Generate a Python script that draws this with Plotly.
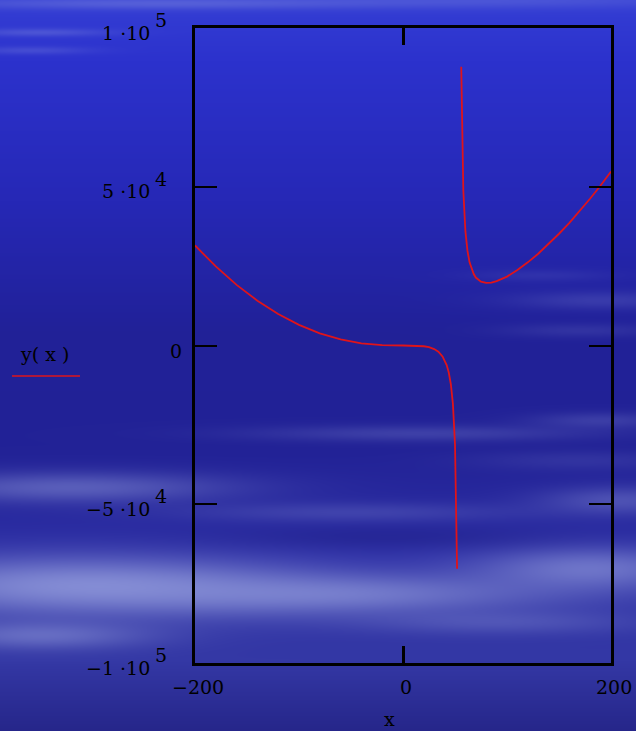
import numpy as np
import zlib, struct, base64
import plotly.graph_objects as go

# ---------------- data ----------------
x_left = [-200, -180, -160, -140, -120, -100, -80, -60, -40, -20, 0, 10, 20, 25, 30, 34, 38, 42, 44, 46, 48, 50, 52]
y_left = [31500, 24900, 19100, 14100, 9900, 6500, 3800, 1900, 680, 110, 0, -20, -240, -540, -1120, -1970, -3430,
          -6170, -8500, -12200, -18400, -31200, -70300]
x_right = [56, 58, 60, 62, 64, 66, 68, 70, 75, 80, 85, 90, 100, 110, 120, 130, 140, 150, 160, 170, 180, 190, 200]
y_right = [87800, 48800, 36000, 29800, 26200, 24000, 22500, 21400, 20100, 19700, 19800, 20300, 21700, 23800,
           26200, 28900, 31900, 35200, 38600, 42400, 46300, 50400, 54800]

ytick_vals = [100000, 50000, 0, -50000, -100000]
ytick_base = ["1 \u00b710", "5 \u00b710", "0", "\u22125 \u00b710", "\u22121 \u00b710"]
ytick_exp = ["5", "4", "", "4", "5"]
xtick_vals = [-200, 0, 200]
xtick_text = ["\u2212200", "0", "200"]
legend_text = "y( x )"
x_title = "x"

# ---------------- background (sky with clouds) ----------------
W, H = 636, 731
yy, xx = np.mgrid[0:H, 0:W].astype(float)
stops_y = [0, 60, 200, 330, 450, 560, 660, 731]
stops_c = [(52, 62, 212), (44, 50, 205), (38, 40, 182), (33, 33, 152), (34, 34, 150), (44, 46, 165),
           (52, 56, 165), (38, 38, 138)]
img = np.stack([np.interp(yy, stops_y, [c[i] for c in stops_c]) for i in range(3)], -1)
cloud = np.array([160.0, 170.0, 228.0])
dark = np.array([28.0, 28.0, 130.0])
layers = [
    (150, 3, 220, 6, 0.3), (40, 32, 70, 4, 0.25), (30, 50, 60, 4, 0.2), (500, 0, 220, 8, 0.2),
    (600, 300, 90, 9, 0.18), (580, 330, 80, 7, 0.13), (540, 275, 70, 6, 0.1),
    (420, 433, 170, 8, 0.22), (600, 420, 70, 8, 0.2), (580, 460, 110, 10, 0.12),
    (70, 487, 160, 15, 0.42), (350, 512, 170, 10, 0.2), (620, 500, 80, 14, 0.32),
    (80, 585, 230, 30, 0.72), (340, 594, 220, 20, 0.55), (590, 568, 120, 22, 0.55),
    (40, 635, 110, 14, 0.45), (500, 622, 140, 12, 0.25),
    (390, 537, 160, 12, -0.35),
]
for cx, cy, sx, sy, amp in layers:
    g = np.exp(-((xx - cx) / sx) ** 2 - ((yy - cy) / sy) ** 2)[..., None]
    if amp > 0:
        img = img + amp * g * (cloud - img)
    else:
        img = img + (-amp) * g * (dark - img)
img = np.clip(img, 0, 255).astype(np.uint8)
raw = b"".join(b"\x00" + img[r].tobytes() for r in range(H))


def chunk(t, d):
    return struct.pack(">I", len(d)) + t + d + struct.pack(">I", zlib.crc32(t + d) & 0xFFFFFFFF)


png = (b"\x89PNG\r\n\x1a\n" + chunk(b"IHDR", struct.pack(">IIBBBBB", W, H, 8, 2, 0, 0, 0))
       + chunk(b"IDAT", zlib.compress(raw, 9)) + chunk(b"IEND", b""))
bg_src = "data:image/png;base64," + base64.b64encode(png).decode()

# ---------------- figure ----------------
L, R, T, B = 195, 25, 28, 68
PW, PH = W - L - R, H - T - B
FONT = "DejaVu Serif"
RED = "#e0141a"

xs = x_left + [None] + x_right
ys = y_left + [None] + y_right

fig = go.Figure()
fig.add_trace(go.Scatter(x=xs, y=ys, mode="lines", line=dict(color=RED, width=1.8),
                         connectgaps=False, showlegend=False, hoverinfo="skip"))

fig.update_xaxes(range=[-200, 200], showgrid=False, zeroline=False, showline=True, linecolor="black",
                 linewidth=3, mirror="ticks", ticks="inside", ticklen=17, tickwidth=2.5, tickcolor="black",
                 tickvals=xtick_vals, showticklabels=False)
fig.update_yaxes(range=[-100000, 100000], showgrid=False, zeroline=False, showline=True, linecolor="black",
                 linewidth=3, mirror="ticks", ticks="inside", ticklen=22, tickwidth=2, tickcolor="black",
                 tickvals=ytick_vals, showticklabels=False)

ann = []
def px2paper_x(px):
    return (px - L) / PW

TF = dict(family=FONT, size=19, color="black")
for v, base_t, exp_t in zip(ytick_vals, ytick_base, ytick_exp):
    if exp_t:
        ann.append(dict(x=px2paper_x(152), xref="paper", y=v, yref="y", text=base_t, showarrow=False,
                        xanchor="right", yanchor="middle", yshift=-4.5, font=TF))
        ann.append(dict(x=px2paper_x(153), xref="paper", y=v, yref="y", text=exp_t, showarrow=False,
                        xanchor="left", yanchor="middle", yshift=8, font=TF))
    else:
        ann.append(dict(x=px2paper_x(184), xref="paper", y=v, yref="y", text=base_t, showarrow=False,
                        xanchor="right", yanchor="middle", yshift=-5, font=TF))

for v, t in zip(xtick_vals, xtick_text):
    ann.append(dict(x=v, xref="x", y=-(687 - (T + PH)) / PH, yref="paper", text=t, showarrow=False,
                    xanchor="center", yanchor="middle", xshift=3, font=TF))

ann.append(dict(x=px2paper_x(389), xref="paper", y=-(719 - (T + PH)) / PH, yref="paper", text=x_title,
                showarrow=False, xanchor="center", yanchor="middle", font=TF))
ann.append(dict(x=px2paper_x(44), xref="paper", y=(T + PH - 354) / PH, yref="paper", text=legend_text,
                showarrow=False, xanchor="center", yanchor="middle", font=TF))

fig.update_layout(
    width=W, height=H, autosize=False,
    margin=dict(l=L, r=R, t=T, b=B, pad=0),
    paper_bgcolor="rgb(36,38,160)", plot_bgcolor="rgba(0,0,0,0)",
    showlegend=False,
    annotations=ann,
    shapes=[dict(type="line", xref="paper", yref="paper", x0=px2paper_x(12), x1=px2paper_x(80),
                 y0=(T + PH - 376) / PH, y1=(T + PH - 376) / PH, line=dict(color=RED, width=1.5))],
    images=[dict(source=bg_src, xref="paper", yref="paper", x=-L / PW, y=1 + T / PH, sizex=W / PW,
                 sizey=H / PH, xanchor="left", yanchor="top", sizing="stretch", layer="below")],
)

fig.write_html("out.html", config={"displayModeBar": False},
               post_script="document.body.style.margin='0';document.body.style.padding='0';"
                           "document.body.style.overflow='hidden';")
